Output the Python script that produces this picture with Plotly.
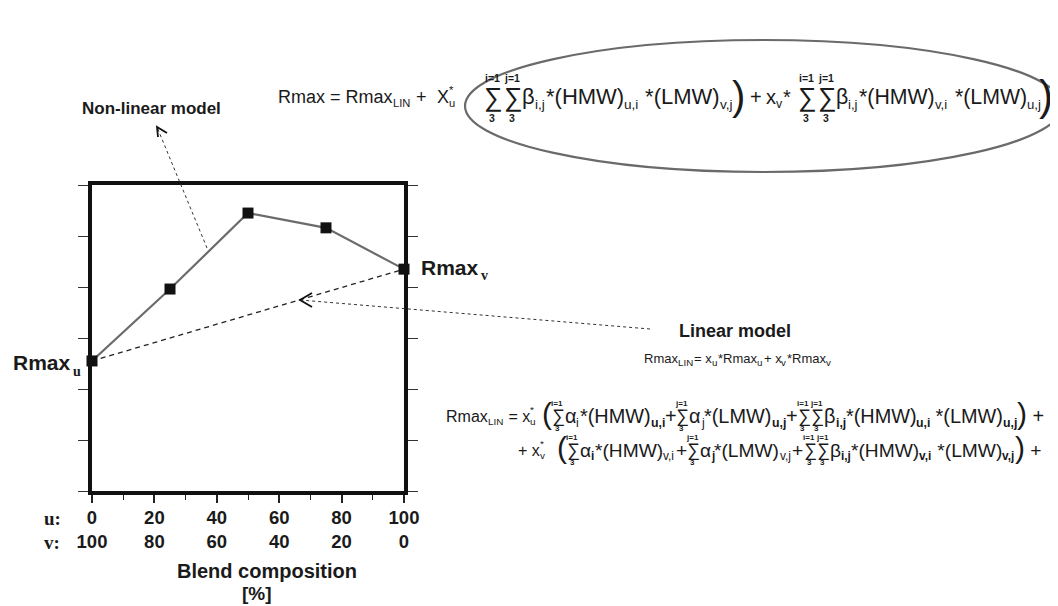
import plotly.graph_objects as go

# ---------------- data ----------------
blend_u = [0, 25, 50, 75, 100]
rmax_nonlinear = [2.55, 3.96, 5.45, 5.16, 4.35]
linear_u = [0, 100]
rmax_linear = [2.55, 4.35]
tick_u = [0, 20, 40, 60, 80, 100]
tick_v = [100, 80, 60, 40, 20, 0]
y_ticks = [0, 1, 2, 3, 4, 5, 6]

# page geometry (browser body margin of 8px is compensated)
OFF = 8
W, H = 1058, 606
L, R, T, B = 92, 404, 185, 491

def px(x):
    return (x - L) / (R - L)

def py(y):
    return (B - y) / (B - T)

FONT = "Liberation Sans, Arial, sans-serif"
SERIF = "Liberation Serif, Times New Roman, serif"
INK = "#1a1a1a"

# Arial / Liberation Sans advance widths (per 1000 em)
MET = {' ': 278, '(': 333, ')': 333, '*': 389, '+': 584, ',': 278, '1': 556, '3': 556,
       '=': 584, 'H': 722, 'I': 278, 'L': 556, 'M': 833, 'N': 722, 'R': 722, 'W': 944,
       'a': 556, 'i': 222, 'j': 222, 'm': 833, 'u': 556, 'v': 500, 'x': 500, 'X': 667,
       'α': 578, 'β': 575, '∑': 712}

def width(s, size):
    return sum(MET.get(c, 556) for c in s) * size / 1000.0

ann = []

def text_at(x, y, s, size, bold=False, color=INK, xanchor='left', family=FONT):
    ann.append(dict(x=px(x), y=py(y), xref='paper', yref='paper', text=s, showarrow=False,
                    xanchor=xanchor, yanchor='middle', borderpad=0,
                    font=dict(size=size, family=family, color=color,
                              weight='bold' if bold else 'normal')))

def run(x, y, size, items, lim=10, sumsize=None, up=18, down=17, subr=0.62):
    cur = x
    sumsize = sumsize or size * 1.2
    for it in items:
        k = it[0]
        if k == 't':
            b = it[2] if len(it) > 2 else False
            text_at(cur, y, it[1], size, bold=b)
            cur += width(it[1], size)
        elif k == 'sub':
            b = it[2] if len(it) > 2 else False
            fs = size * subr
            text_at(cur, y + size * 0.33, it[1], fs, bold=b)
            cur += width(it[1], fs) + 1
        elif k == 'ss':
            fs = size * subr
            text_at(cur, y + size * 0.33, it[1], fs)
            text_at(cur, y - size * 0.4, it[2], fs)
            cur += max(width(it[1], fs), width(it[2], fs)) + 1
        elif k == 'sum':
            text_at(cur, y, '∑', sumsize)
            w = width('∑', sumsize)
            text_at(cur + w / 2, y - up, it[1], lim, bold=True, xanchor='center')
            text_at(cur + w / 2, y + down, it[2], lim, bold=True, xanchor='center')
            cur += w
        elif k == 'paren':
            ps = it[2]
            text_at(cur, y - ps * 0.07, it[1], ps)
            cur += width(it[1], ps)
        elif k == 'gap':
            cur += it[1]
    return cur

# ---------- top (non-linear) equation ----------
ytop = 97
run(277, ytop, 18, [('t', 'Rmax = Rmax'), ('sub', 'LIN'), ('t', ' + '), ('gap', 6),
                    ('t', 'X'), ('ss', 'u', '*')])
run(483, ytop, 22, [('sum', 'i=1', '3'), ('gap', 1), ('sum', 'j=1', '3'),
                    ('t', 'β'), ('sub', 'i,j'), ('t', '*(HMW)'), ('sub', 'u,i'),
                    ('t', ' *(LMW)'), ('sub', 'v,j')], lim=10.5, sumsize=26, up=19, down=21)
text_at(746, 96, ')', 40, xanchor='right')
run(749, ytop, 20, [('t', '+'), ('gap', 4), ('t', 'x'), ('sub', 'v'), ('t', '*')])
run(797, ytop, 21.3, [('sum', 'i=1', '3'), ('gap', 1), ('sum', 'j=1', '3'),
                      ('t', 'β'), ('sub', 'i,j'), ('t', '*(HMW)'), ('sub', 'v,i'),
                      ('t', ' *(LMW)'), ('sub', 'u,j')], lim=10.5, sumsize=26, up=19, down=21)
text_at(1054, 96, ')', 42, xanchor='right')

# ---------- bottom (linear) equations ----------
y1, y2 = 416, 450
run(445, y1, 16, [('t', 'Rmax'), ('sub', 'LIN'), ('t', ' = x'), ('ss', 'u', '*')])
run(541, y1, 19.9, [('paren', '(', 30), ('sum', 'i=1', '3'), ('t', 'α'), ('sub', 'i'),
                    ('t', '*(HMW)'), ('sub', 'u,i', True), ('t', '+'), ('sum', 'j=1', '3'),
                    ('t', 'α'), ('sub', 'j'), ('t', '*(LMW)'), ('sub', 'u,j', True), ('t', '+'),
                    ('sum', 'i=1', '3'), ('gap', 1), ('sum', 'j=1', '3'), ('t', 'β'),
                    ('sub', 'i,j', True),
                    ('t', '*(HMW)'), ('sub', 'u,i', True), ('t', ' *(LMW)'), ('sub', 'u,j', True),
                    ('paren', ')', 30), ('t', ' +')], lim=8, sumsize=18, up=13, down=12)
run(517, y2, 16, [('t', '+ x'), ('ss', 'v', '*')])
run(556, y2, 19.2, [('paren', '(', 30), ('sum', 'i=1', '3'), ('t', 'α'), ('sub', 'i', True),
                    ('t', '*(HMW)'), ('sub', 'v,i'), ('t', '+'), ('sum', 'j=1', '3'),
                    ('t', 'α'), ('sub', 'j', True), ('t', '*(LMW)'), ('sub', 'v,j'), ('t', '+'),
                    ('sum', 'i=1', '3'), ('gap', 1), ('sum', 'j=1', '3'), ('t', 'β'),
                    ('sub', 'i,j', True),
                    ('t', '*(HMW)'), ('sub', 'v,i', True), ('t', ' *(LMW)'), ('sub', 'v,j', True),
                    ('paren', ')', 30), ('t', ' +')], lim=8, sumsize=18, up=13, down=12)

# ---------- labels ----------
text_at(151, 108, 'Non-linear model', 17, bold=True, xanchor='center')
text_at(735, 331, 'Linear model', 18, bold=True, xanchor='center')
run(643, 358, 13, [('t', 'Rmax'), ('sub', 'LIN'), ('t', '= x'), ('sub', 'u'), ('t', '*Rmax'),
                   ('sub', 'u'), ('t', '+ x'), ('sub', 'v'), ('t', '*Rmax'), ('sub', 'v')],
    subr=0.75)
text_at(12, 362, 'Rmax', 21, bold=True)
text_at(72, 371, 'u', 14, bold=True, family=SERIF)
text_at(420, 267, 'Rmax', 21, bold=True)
text_at(480, 275, 'v', 14, bold=True, family=SERIF)
text_at(43, 519, 'u:', 19, bold=True, family=SERIF)
text_at(43, 542, 'v:', 19, bold=True, family=SERIF)
text_at(267, 571, 'Blend composition', 20, bold=True, xanchor='center')
text_at(257, 593, '[%]', 19, bold=True, xanchor='center')

# ---------- shapes ----------
shapes = []
GREY = '#6a6a6a'
shapes.append(dict(type='circle', xref='paper', yref='paper', x0=px(465), x1=px(1062),
                   y0=py(172), y1=py(40), line=dict(color=GREY, width=2.2)))
shapes.append(dict(type='line', xref='paper', yref='paper', x0=px(207), y0=py(248),
                   x1=px(157), y1=py(127), line=dict(color='#333', width=1, dash='dot')))
shapes.append(dict(type='line', xref='paper', yref='paper', x0=px(650), y0=py(329),
                   x1=px(300), y1=py(300), line=dict(color='#333', width=1, dash='dot')))

def path(pts):
    return 'M ' + ' L '.join(f'{px(a):.5f},{py(b):.5f}' for a, b in pts)

shapes.append(dict(type='path', xref='paper', yref='paper',
                   path=path([(167, 133), (157, 127), (158, 137)]),
                   line=dict(color='#111', width=1.8)))
shapes.append(dict(type='path', xref='paper', yref='paper',
                   path=path([(312, 293), (300, 300), (312, 307)]),
                   line=dict(color='#111', width=1.8)))

fig = go.Figure()
fig.add_trace(go.Scatter(x=linear_u, y=rmax_linear, mode='lines',
                         line=dict(color='#222', width=1.3, dash='5px,4px'),
                         cliponaxis=False, hoverinfo='skip'))
fig.add_trace(go.Scatter(x=blend_u, y=rmax_nonlinear, mode='lines+markers',
                         line=dict(color='#6b6b6b', width=2.2),
                         marker=dict(symbol='square', size=11, color='#111'),
                         cliponaxis=False))

ticktext = [f'{u}<br>{v}' for u, v in zip(tick_u, tick_v)]
fig.update_layout(
    width=W - OFF, height=H - OFF, autosize=False,
    margin=dict(l=L - OFF, r=W - R, t=T - OFF, b=H - B, pad=0),
    paper_bgcolor='white', plot_bgcolor='white',
    showlegend=False,
    annotations=ann, shapes=shapes,
    xaxis=dict(range=[0, 100], tickvals=tick_u, ticktext=ticktext,
               ticks='outside', ticklen=8, tickwidth=1.5, tickcolor='#222',
               minor=dict(dtick=10, ticks='outside', ticklen=5, tickwidth=1.2, tickcolor='#222'),
               showline=True, linewidth=4, linecolor='#111', mirror=True,
               showgrid=False, zeroline=False, ticklabelstandoff=-1,
               tickfont=dict(family=FONT, size=18.5, color=INK, weight='bold')),
    yaxis=dict(range=[0, 6], tickvals=y_ticks, showticklabels=False,
               ticks='outside', ticklen=10, tickwidth=1.2, tickcolor='#333',
               showline=True, linewidth=4, linecolor='#111', mirror='allticks',
               showgrid=False, zeroline=False),
)
fig.write_html('out.html')
